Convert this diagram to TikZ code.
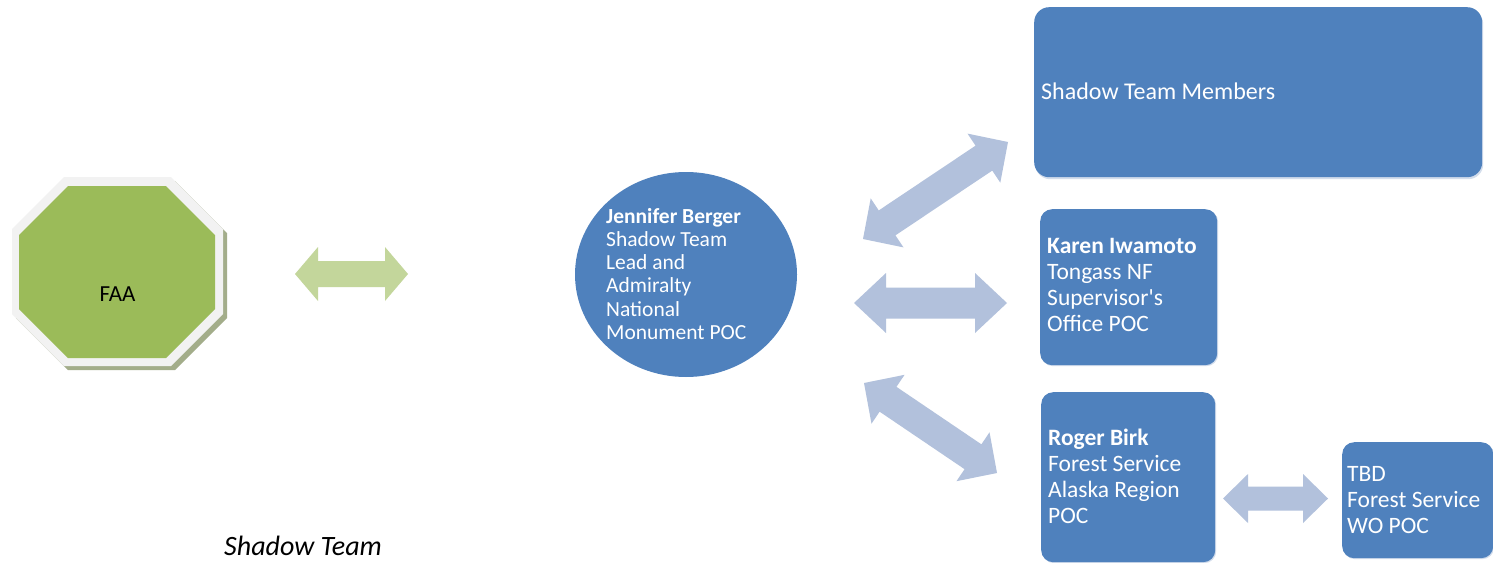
\documentclass[tikz,border=0pt]{standalone}
\usepackage{fontspec}
\setmainfont{Carlito}
\usetikzlibrary{calc,shapes.geometric}
\definecolor{blueA}{HTML}{4F81BD}
\definecolor{arrowblue}{HTML}{B2C1DC}
\definecolor{greenA}{HTML}{9BBB59}
\definecolor{greenarrow}{HTML}{C3D69B}
\definecolor{octborder}{HTML}{F2F2F2}
\definecolor{octshadow}{HTML}{A3AD8A}
\definecolor{boxshadow}{HTML}{D3DDEC}
\newcommand\blockarrow[6]{%
 \fill[#6] (#1) -- ($(#1)!#3!(#2)!#4!90:(#2)$) -- ($(#1)!#3!(#2)!#5!90:(#2)$)
  -- ($(#2)!#3!(#1)!#5!-90:(#1)$) -- ($(#2)!#3!(#1)!#4!-90:(#1)$) -- (#2)
  -- ($(#2)!#3!(#1)!#4!90:(#1)$) -- ($(#2)!#3!(#1)!#5!90:(#1)$)
  -- ($(#1)!#3!(#2)!#5!-90:(#2)$) -- ($(#1)!#3!(#2)!#4!-90:(#2)$) -- cycle;}
\tikzset{
  box/.style={fill=blueA, rounded corners=12pt, inner sep=0pt, anchor=north west},
  boxshade/.style={fill=boxshadow, rounded corners=12pt, inner sep=0pt, anchor=north west},
  boxtext/.style={text=white, inner sep=0pt, anchor=north west, align=left, font=\fontsize{23.5}{26}\selectfont},
  circtext/.style={text=white, inner sep=0pt, anchor=north west, align=left, font=\fontsize{21.5}{23.2}\selectfont},
  bluearrow/.style={fill=arrowblue},
  greenarr/.style={fill=greenarrow}
}
\begin{document}
\begin{tikzpicture}[x=1pt,y=-1pt]
\useasboundingbox (0,0) rectangle (1493,562);
\fill[white] (0,0) rectangle (1493,562);
% FAA octagon
\fill[octshadow] (68,181) -- (175,181) -- (227,233) -- (227,318) -- (175,370) -- (68,370) -- (16,318) -- (16,233) -- cycle;
\fill[octborder] (64,177) -- (171,177) -- (223,229) -- (223,314) -- (171,366) -- (64,366) -- (12,314) -- (12,229) -- cycle;
\fill[greenA] (68,186) -- (166,186) -- (215,235) -- (215,309) -- (166,358) -- (68,358) -- (19,309) -- (19,235) -- cycle;
\node[anchor=base, inner sep=0pt, font=\fontsize{23}{26}\selectfont] (faa) at (117.5,301) {FAA};
% Jennifer circle
\node[ellipse, fill=blueA, minimum width=222pt, minimum height=205pt, inner sep=0pt] (jb) at (686,274.5) {};
\node[circtext] (jbtext) at (606,205) {\rule{0pt}{18pt}\textbf{Jennifer Berger}\\Shadow Team\\Lead and\\Admiralty\\National\\Monument POC};
% boxes
\node[boxshade, rounded corners=15pt, minimum width=448pt, minimum height=170pt] at (1035,9) {};
\node[box, rounded corners=15pt, minimum width=448pt, minimum height=170pt] (stm) at (1034,7) {};
\node[anchor=base west, inner sep=0pt, text=white, font=\fontsize{24}{26}\selectfont] (stmtext) at (1041,99) {Shadow Team Members};
\node[boxshade, minimum width=177pt, minimum height=156pt] at (1041,210) {};
\node[box, minimum width=177pt, minimum height=156pt] (ki) at (1040,209) {};
\node[boxtext] (kitext) at (1047,233) {\rule{0pt}{20pt}\textbf{Karen Iwamoto}\\Tongass NF\\Supervisor\textquotesingle s\\Office POC};
\node[boxshade, minimum width=174pt, minimum height=170pt] at (1042,393) {};
\node[box, minimum width=174pt, minimum height=170pt] (rb) at (1041,392) {};
\node[boxtext] (rbtext) at (1048,425) {\rule{0pt}{20pt}\textbf{Roger Birk}\\Forest Service\\Alaska Region\\POC};
\node[boxshade, minimum width=151pt, minimum height=116pt] at (1343,443) {};
\node[box, minimum width=151pt, minimum height=116pt] (tbd) at (1342,442) {};
\node[boxtext] (tbdtext) at (1347,461) {\rule{0pt}{20pt}TBD\\Forest Service\\WO POC};
% caption
\node[anchor=base west, inner sep=0pt, font=\fontsize{28}{30}\selectfont\itshape] (cap) at (224,555) {Shadow Team};
% arrow end points
\coordinate (g1) at (295,274);   \coordinate (g2) at (408,274);
\coordinate (u1) at (863,239);   \coordinate (u2) at (1008,142);
\coordinate (m1) at (854,303);   \coordinate (m2) at (1007,303);
\coordinate (l1) at (864,383);   \coordinate (l2) at (997,473);
\coordinate (b1) at (1223,498.5); \coordinate (b2) at (1328,498.5);
\blockarrow{g1}{g2}{23pt}{27pt}{13pt}{greenarr}
\blockarrow{u1}{u2}{29pt}{29.5pt}{15pt}{bluearrow}
\blockarrow{m1}{m2}{32pt}{30pt}{15.5pt}{bluearrow}
\blockarrow{l1}{l2}{29pt}{29.5pt}{15pt}{bluearrow}
\blockarrow{b1}{b2}{25pt}{24.5pt}{12pt}{bluearrow}
\end{tikzpicture}
\end{document}
